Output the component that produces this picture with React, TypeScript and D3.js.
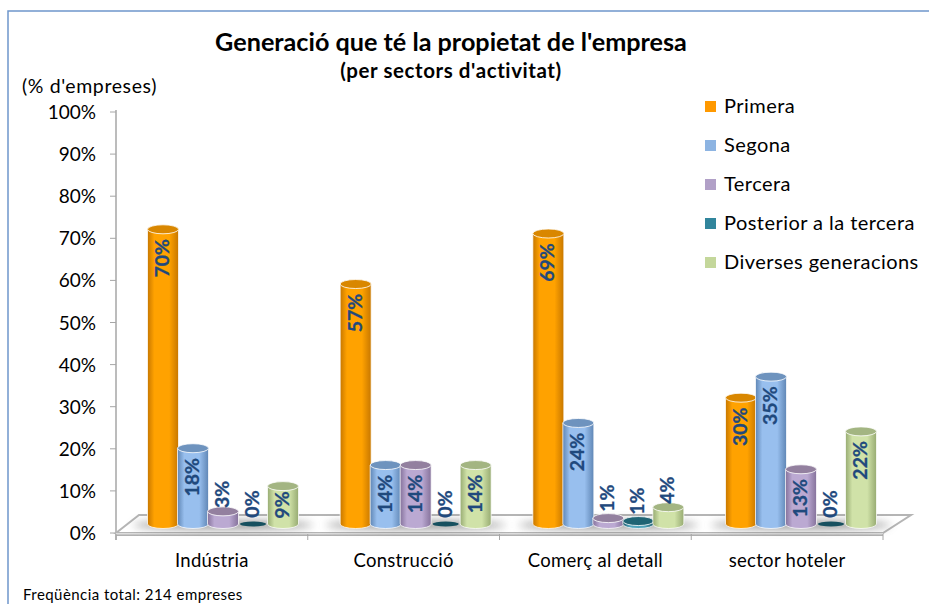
import React from "react";
import * as d3 from "d3";

const categories = ["Indústria", "Construcció", "Comerç al detall", "sector hoteler"];
const seriesNames = ["Primera", "Segona", "Tercera", "Posterior a la tercera", "Diverses generacions"];
const primera = [70, 57, 69, 30];
const segona = [18, 14, 24, 35];
const tercera = [3, 14, 1.4, 13];
const posterior = [0, 0, 0.7, 0];
const diverses = [9, 14, 4, 22];
const seriesValues = [primera, segona, tercera, posterior, diverses];
const yTicks = [0, 10, 20, 30, 40, 50, 60, 70, 80, 90, 100];

const legendColors = ["#FF9900", "#8DB4E2", "#B1A0C7", "#31859C", "#C4D79B"];
const edge = ["#C77700", "#5F86B5", "#85729B", "#1C5A6B", "#97AB72"];
const mid = ["#FFA200", "#98BFEE", "#BBA9D2", "#4FA3BA", "#D0E2A8"];
const topFill = ["#D98700", "#6E93BE", "#93809F", "#1F6474", "#A3B582"];
const FONT = "Lato, Carlito, sans-serif";
const DY = 9, RX = 15.5, RY = 4.5;

export default function App() {
  const x = d3.scaleBand<string>().domain(categories).range([116, 883]);
  const group = d3.scalePoint<string>().domain(categories).range([223, 801]);
  const y = d3.scaleLinear().domain([0, 100]).range([533, 112]);
  const s = d3.scalePoint<string>().domain(seriesNames).range([-60, 60]);
  const floor = d3.line()([[116, 533], [883, 533], [911, 515], [139, 515]]) + "Z";
  return (
    <svg width={929} height={604} style={{ position: "absolute", left: 0, top: 0, background: "#fff" }} fontFamily={FONT}>
      <defs>
        {seriesNames.map((_, i) => (
          <linearGradient key={i} id={`g${i}`} x1="0" x2="1" y1="0" y2="0">
            <stop offset="0" stopColor={edge[i]} />
            <stop offset="0.22" stopColor={mid[i]} />
            <stop offset="0.7" stopColor={mid[i]} />
            <stop offset="1" stopColor={edge[i]} />
          </linearGradient>
        ))}
        <linearGradient id="front" x1="0" x2="0" y1="0" y2="1">
          <stop offset="0" stopColor="#e8e8e8" />
          <stop offset="1" stopColor="#a6a6a6" />
        </linearGradient>
        <filter id="blur" x="-30%" y="-100%" width="160%" height="300%">
          <feGaussianBlur stdDeviation="4" />
        </filter>
      </defs>
      <path d="M929 11H8V604" fill="none" stroke="#6F97CC" strokeWidth={1.5} />

      <text x={451} y={51} textAnchor="middle" fontWeight={700} fontSize={25.2}>Generació que té la propietat de l'empresa</text>
      <text x={451} y={78} textAnchor="middle" fontWeight={700} fontSize={20.5} letterSpacing={0.58}>(per sectors d'activitat)</text>
      <text x={22} y={93} fontSize={19.5} letterSpacing={0.6}>(% d'empreses)</text>

      <line x1={116} x2={116} y1={y(100) - 2} y2={y(0) + 7} stroke="#a6a6a6" strokeWidth={1.5} />
      {yTicks.map((t) => (
        <g key={t}>
          <line x1={110} x2={116} y1={y(t)} y2={y(t)} stroke="#a6a6a6" />
          <text x={96} y={y(t) + 7} textAnchor="end" fontSize={19}>{t}%</text>
        </g>
      ))}

      <path d={floor} fill="#fff" stroke="#b5b5b5" strokeWidth={2} />
      <rect x={116} y={533} width={767} height={3} fill="url(#front)" />
      {[...categories.map((c) => x(c)!), 883].map((t) => (
        <line key={t} x1={t} x2={t} y1={534} y2={540} stroke="#a6a6a6" />
      ))}

      {categories.map((c) => (
        <ellipse key={c} cx={group(c)!} cy={525} rx={90} ry={4.5} fill="#707070" opacity={0.7} filter="url(#blur)" />
      ))}

      {categories.map((c, ci) => {
        const cx0 = group(c)!;
        return seriesNames.map((n, i) => {
          const v = seriesValues[i][ci];
          const cx = cx0 + s(n)!;
          const top = y(v) - DY;
          const base = y(0) - DY;
          const labelY = v >= 9 ? Math.min(top + 29, base - 19) : top - (v >= 3 ? 17 : 20);
          return (
            <g key={n}>
              {v > 0 && (
                <path
                  d={`M${cx - RX} ${top}V${base}A${RX} ${RY} 0 0 0 ${cx + RX} ${base}V${top}Z`}
                  fill={`url(#g${i})`} stroke="#fff" strokeOpacity={0.75} strokeWidth={1}
                />
              )}
              <ellipse cx={cx} cy={v > 0 ? top : base} rx={v > 0 ? RX : 13} ry={v > 0 ? RY : 2.5} fill={v > 0 ? topFill[i] : "#17505F"} stroke={v > 0 ? "#fff" : "none"} strokeOpacity={0.8} />
              <text
                transform={`translate(${cx + 6},${labelY}) rotate(-90)`}
                textAnchor="middle" fontSize={19.5} fontWeight={700} fill="#1F497D" stroke="#1F497D" strokeWidth={0.3}
              >{Math.round(v)}%</text>
            </g>
          );
        });
      })}

      {categories.map((c) => (
        <text key={c} x={x(c)! + x.bandwidth() / 2} y={567} textAnchor="middle" fontSize={18.5} letterSpacing={0.3}>{c}</text>
      ))}

      {seriesNames.map((n, i) => (
        <g key={n}>
          <rect x={705} y={101 + i * 39} width={11} height={11} fill={legendColors[i]} />
          <text x={724} y={113 + i * 39} fontSize={20} letterSpacing={0.45}>{n}</text>
        </g>
      ))}

      <text x={23} y={600} fontSize={15} letterSpacing={0.45}>Freqüència total: 214 empreses</text>
    </svg>
  );
}
